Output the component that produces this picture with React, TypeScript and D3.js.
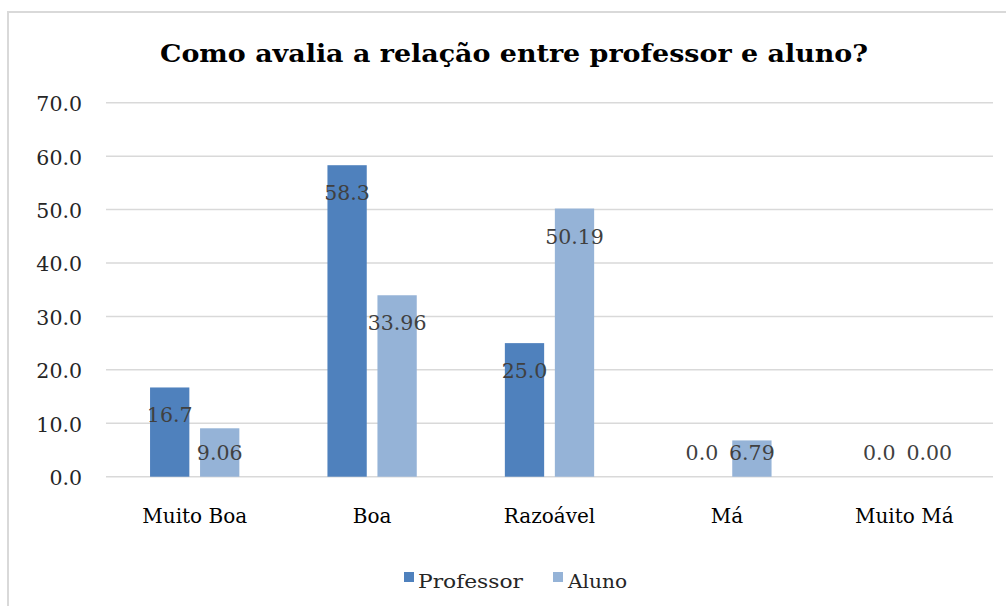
import React from "react";
import * as d3 from "d3";

const categories = ["Muito Boa", "Boa", "Razoável", "Má", "Muito Má"];
const seriesNames = ["Professor", "Aluno"];
const professorValues = [16.7, 58.3, 25.0, 0.0, 0.0];
const alunoValues = [9.06, 33.96, 50.19, 6.79, 0.0];
const professorLabels = ["16.7", "58.3", "25.0", "0.0", "0.0"];
const alunoLabels = ["9.06", "33.96", "50.19", "6.79", "0.00"];
const yTicks = [0, 10, 20, 30, 40, 50, 60, 70];
const title = "Como avalia a relação entre professor e aluno?";

const colors = ["#4F81BD", "#95B3D7"];
const W = 1006;
const H = 606;
const plot = { left: 106, right: 993, top: 102.7, bottom: 476.7 };
const serif = "'DejaVu Serif', serif";

export default function App() {
  const x0 = d3.scaleBand<string>().domain(categories).range([plot.left, plot.right]).paddingInner(0).paddingOuter(0);
  const y = d3.scaleLinear().domain([0, 70]).range([plot.bottom, plot.top]);
  const groupW = 89.3;
  const x1 = d3.scaleBand<string>().domain(seriesNames).range([0, groupW]).paddingInner(0.214).paddingOuter(0);
  const values = [professorValues, alunoValues];
  const labels = [professorLabels, alunoLabels];

  return (
    <svg width={W} height={H} style={{ position: "absolute", left: 0, top: 0, background: "#fff" }}>
      <rect x={8} y={12} width={1010} height={610} fill="#fff" stroke="#D9D9D9" strokeWidth={2} />
      <text x={514} y={62} textAnchor="middle" fontFamily={serif} fontWeight="bold" fontSize={24} textLength={708} lengthAdjust="spacingAndGlyphs" fill="#000">
        {title}
      </text>
      {yTicks.map((t) => (
        <g key={t}>
          <line x1={plot.left} x2={plot.right} y1={y(t)} y2={y(t)} stroke="#D9D9D9" strokeWidth={1.5} />
          <text x={82} y={y(t) + 1.5} textAnchor="end" dominantBaseline="central" fontFamily={serif} fontSize={20.5} fill="#262626">
            {t.toFixed(1)}
          </text>
        </g>
      ))}
      {categories.map((c, i) => {
        const cx = (x0(c) as number) + x0.bandwidth() / 2;
        const gx = cx - groupW / 2;
        return (
          <g key={c}>
            {seriesNames.map((s, k) => {
              const v = values[k][i];
              const bx = gx + (x1(s) as number);
              const bw = x1.bandwidth();
              const top = y(v);
              const ly = Math.min(top + 35, y(0) - 17);
              return (
                <g key={s}>
                  {v > 0 && <rect x={bx} y={top} width={bw} height={y(0) - top} fill={colors[k]} />}
                  <text x={bx + bw / 2} y={ly} textAnchor="middle" fontFamily={serif} fontSize={20.5} fill="#404040">
                    {labels[k][i]}
                  </text>
                </g>
              );
            })}
            <text x={cx} y={523} textAnchor="middle" fontFamily={serif} fontSize={20} fill="#000">
              {c}
            </text>
          </g>
        );
      })}
      <g>
        <rect x={404} y={572} width={10} height={10} fill={colors[0]} />
        <text x={418} y={588} fontFamily={serif} fontSize={19} fill="#262626" textLength={105} lengthAdjust="spacingAndGlyphs">
          {seriesNames[0]}
        </text>
        <rect x={553} y={572} width={10} height={10} fill={colors[1]} />
        <text x={568} y={588} fontFamily={serif} fontSize={19} fill="#262626" textLength={59} lengthAdjust="spacingAndGlyphs">
          {seriesNames[1]}
        </text>
      </g>
    </svg>
  );
}
